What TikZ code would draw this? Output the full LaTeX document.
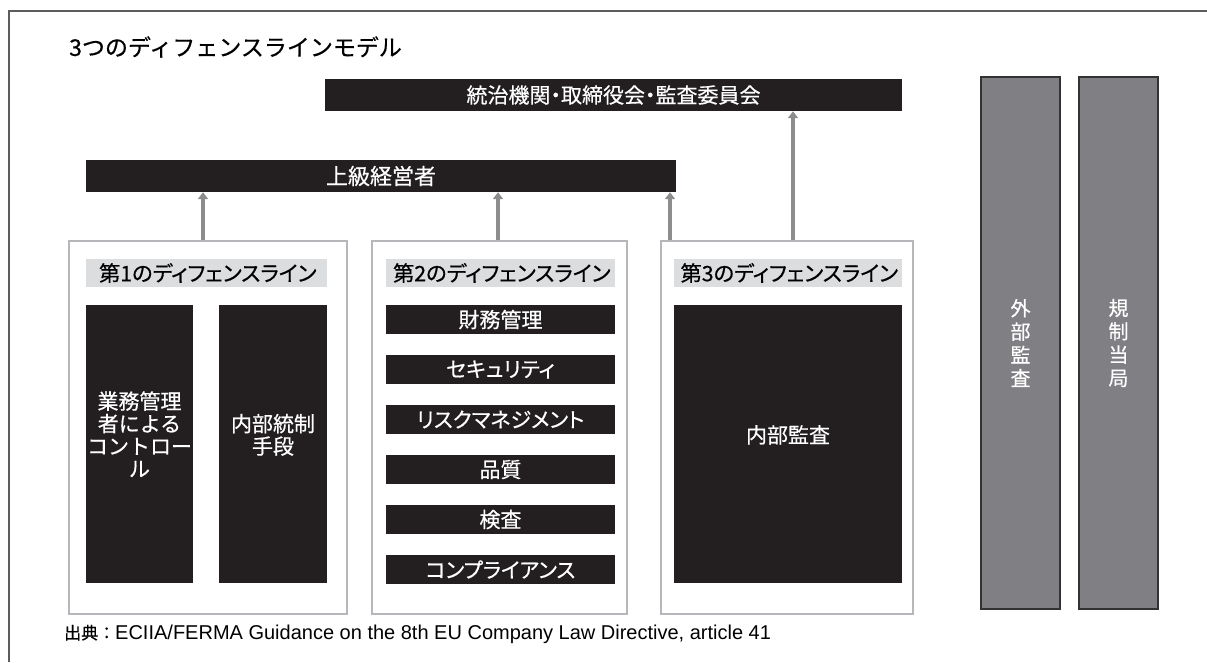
\documentclass[tikz,border=0pt]{standalone}
\usepackage{fontspec}
\setmainfont{Noto Sans CJK JP}[FakeBold=0.5]
\newfontfamily\jpprop{Noto Sans CJK JP}[RawFeature=+palt,FakeBold=0.5]
\newfontfamily\latinfont{Liberation Sans}
\usetikzlibrary{positioning,arrows.meta}

\definecolor{barblack}{HTML}{231F20}
\definecolor{labelgray}{HTML}{DCDDDF}
\definecolor{linegray}{HTML}{B6B7BA}
\definecolor{colgray}{HTML}{808084}
\definecolor{arrowgray}{HTML}{8D8D90}
\definecolor{outergray}{HTML}{5C5C5C}

\tikzset{
  bar/.style={fill=barblack,text=white,inner sep=0pt,minimum height=32pt,
    font=\jpprop\fontsize{22}{24}\selectfont},
  linebox/.style={draw=linegray,line width=2pt,inner sep=0pt,minimum height=373pt},
  linelabel/.style={fill=labelgray,inner sep=0pt,inner xsep=4pt,minimum height=28pt,
    text width=215pt,align=left,font=\jpprop\fontsize{21.3}{24}\selectfont},
  unit/.style={fill=barblack,text=white,inner sep=0pt,minimum height=278pt,align=center,
    text depth=20pt,font=\fontsize{21}{22.5}\selectfont},
  func/.style={fill=barblack,text=white,inner sep=0pt,minimum width=229pt,minimum height=29pt,
    font=\jpprop\fontsize{21}{24}\selectfont},
  outside/.style={fill=colgray,draw=black!80,line width=1.5pt,text=white,inner sep=0pt,
    minimum width=79pt,minimum height=532pt,align=center,font=\fontsize{20}{23.3}\selectfont},
  feed/.style={draw=arrowgray,line width=4pt,-{Triangle[width=10pt,length=7pt]}}
}

\begin{document}
\begin{tikzpicture}[x=1pt,y=-1pt,node distance=50pt,on grid]
  \useasboundingbox (0,0) rectangle (1207,662);
  \draw[outergray,line width=1.5pt] (9,662) -- (9,11) -- (1207,11);

  \node[anchor=west,inner sep=0pt,font=\fontsize{23}{28}\selectfont] (title) at (69,47)
    {3つのディフェンスラインモデル};

  \node[bar,minimum width=577pt,font=\jpprop\fontsize{21}{24}\selectfont] (board) at (613.5,95)
    {統治機関・取締役会・監査委員会};
  \node[bar,minimum width=590pt] (senior) at (381,176) {上級経営者};

  % three lines of defence
  \node[linebox,minimum width=278pt] (line1) at (208,427.5) {};
  \node[linebox,minimum width=255pt] (line2) at (499.5,427.5) {};
  \node[linebox,minimum width=252pt] (line3) at (787,427.5) {};

  \node[linelabel,minimum width=241pt] (label1) at (206.5,273) {第1のディフェンスライン};
  \node[linelabel,minimum width=229pt] (label2) at (500.5,273) {第2のディフェンスライン};
  \node[linelabel,minimum width=228pt] (label3) at (788,273) {第3のディフェンスライン};

  \node[unit,minimum width=107pt] (mgmt) at (139.5,444) {業務管理\\者による\\コントロー\\ル};
  \node[unit,minimum width=108pt] (ctrl) at (273,444) {内部統制\\手段};

  \node[func] (finance) at (500.5,319.5) {財務管理};
  \node[func] (security) [below=of finance] {セキュリティ};
  \node[func] (risk) [below=of security] {リスクマネジメント};
  \node[func] (quality) [below=of risk] {品質};
  \node[func] (inspect) [below=of quality] {検査};
  \node[func] (comply) [below=of inspect] {コンプライアンス};

  \node[unit,minimum width=228pt] (audit) at (788,444) {内部監査};

  % external parties
  \node[outside] (extaudit) at (1020.5,343) {外\\部\\監\\査};
  \node[outside] (regulator) at (1118.5,343) {規\\制\\当\\局};

  \node[anchor=west,inner sep=0pt,font=\fontsize{17}{20}\selectfont] (source) at (64,634)
    {出典：\latinfont\fontsize{20}{22}\selectfont ECIIA/FERMA Guidance on the 8th EU Company Law Directive, article 41};

  \coordinate (f1) at ([xshift=-5pt]line1.north);
  \coordinate (f2) at ([xshift=-1.5pt]line2.north);
  \coordinate (f3) at ([xshift=10pt]line3.north west);
  \coordinate (f4) at ([xshift=6pt]line3.north);
  \draw[feed] (f1) -- (f1 |- senior.south);
  \draw[feed] (f2) -- (f2 |- senior.south);
  \draw[feed] (f3) -- (f3 |- senior.south);
  \draw[feed] (f4) -- (f4 |- board.south);
\end{tikzpicture}
\end{document}
